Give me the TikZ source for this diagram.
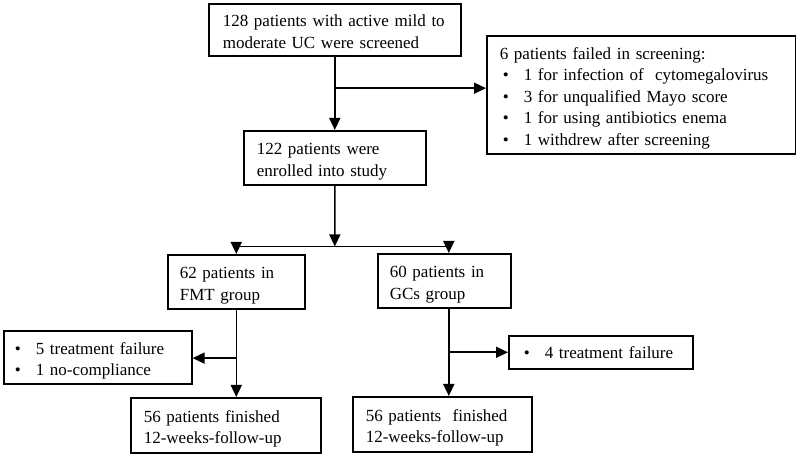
\documentclass[tikz,border=0pt]{standalone}
\usepackage{fontspec}
\setmainfont{Liberation Serif}
\usetikzlibrary{arrows.meta,calc}
\newcommand{\fsz}{\fontsize{17pt}{21.5pt}\selectfont}
\newcommand{\bl}{\hspace*{3pt}\makebox[21pt][l]{•}}
\newcommand{\ts}{\rule{0pt}{20pt}}
\newcommand{\bs}{\rule[-5pt]{0pt}{5pt}}
\tikzset{
  box/.style={draw, line width=1.6pt, align=left, anchor=north west, inner ysep=0pt, font=\fsz},
  arr/.style={line width=1.6pt, -{Triangle[length=12pt,width=11pt]}},
  ln/.style={line width=1.6pt}
}
\begin{document}
\begin{tikzpicture}[x=1pt,y=-1pt]
\useasboundingbox (0,0) rectangle (796,454);
% boxes
\node[box, inner xsep=14pt, text width=224pt, minimum height=52pt] (b1) at (208,3)
  {\mbox{\ts 128 patients with active mild to}\\\mbox{moderate UC were screened\bs}};
\node[box, inner xsep=13pt, text width=283pt, minimum height=118pt] (f0) at (486,35)
  {\mbox{\ts 6 patients failed in screening:}\\
   \mbox{\bl 1 for infection of\ \ cytomegalovirus}\\
   \mbox{\bl 3 for unqualified Mayo score}\\
   \mbox{\bl 1 for using antibiotics enema}\\
   \mbox{\bl 1 withdrew after screening\bs}};
\node[box, inner xsep=13pt, text width=156pt, minimum height=54pt] (b2) at (243,130)
  {\mbox{\ts 122 patients were}\\\mbox{enrolled into study\bs}};
\node[box, inner xsep=12pt, text width=113pt, minimum height=54pt] (fmt) at (167,254)
  {\mbox{\ts 62 patients in}\\\mbox{FMT group\bs}};
\node[box, inner xsep=12pt, text width=109pt, minimum height=54pt] (gcs) at (377,253)
  {\mbox{\ts 60 patients in}\\\mbox{GCs group\bs}};
\node[box, inner xsep=11pt, text width=166pt, minimum height=53pt] (lf) at (3,330)
  {\mbox{\ts\makebox[21pt][l]{•}5 treatment failure}\\\mbox{\makebox[21pt][l]{•}1 no-compliance\bs}};
\node[box, inner xsep=12pt, text width=160pt, minimum height=33pt] (rf) at (508,335)
  {\mbox{\hspace*{3pt}\makebox[21pt][l]{•}4 treatment failure}};
\node[box, inner xsep=13pt, text width=164pt, minimum height=55pt] (b5) at (130,397)
  {\mbox{\ts 56 patients finished}\\\mbox{12-weeks-follow-up\bs}};
\node[box, inner xsep=13pt, text width=153pt, minimum height=55pt] (b6) at (352,396)
  {\mbox{\ts 56 patients\ \ finished}\\\mbox{12-weeks-follow-up\bs}};
% connectors
\coordinate (j1) at ($(b1.south)!0.43!(b2.north)$);
\draw[arr] (b1.south) -- (b1.south |- b2.north);
\draw[arr] (j1) -- (j1 -| f0.west);
\coordinate (j2) at ($(b2.south)!0.89!(b2.south |- fmt.north)$);
\coordinate (gx) at ([xshift=4.5pt]gcs.north);
\draw[arr] (b2.south) -- (j2);
\draw[ln] (j2 -| fmt.north) -- (j2 -| gx);
\draw[arr] (j2 -| fmt.north) -- (fmt.north);
\draw[arr] (j2 -| gx) -- (gx);
\coordinate (j3) at ($(fmt.south)!0.555!(fmt.south |- b5.north)$);
\draw[arr] (fmt.south) -- (fmt.south |- b5.north);
\draw[arr] (j3) -- (j3 -| lf.east);
\coordinate (gb) at ([xshift=4.5pt]gcs.south);
\coordinate (j4) at ($(gb)!0.5!(gb |- b6.north)$);
\draw[arr] (gb) -- (gb |- b6.north);
\draw[arr] (j4) -- (j4 -| rf.west);
\end{tikzpicture}
\end{document}
